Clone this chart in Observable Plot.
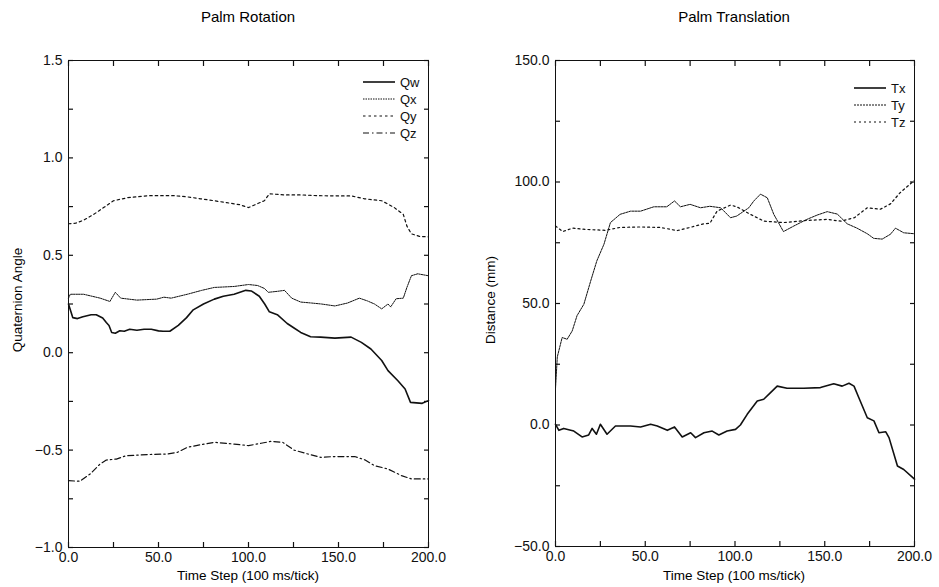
<!DOCTYPE html>
<html>
<head>
<meta charset="utf-8">
<script src="https://cdn.jsdelivr.net/npm/d3@7"></script>
<script src="https://cdn.jsdelivr.net/npm/@observablehq/plot@0.6"></script>
<style>
  body { margin: 0; background: #fff; }
  #wrap { position: relative; width: 939px; height: 587px; font-family: "Liberation Sans", Arial, sans-serif; color: #000; }
  .panel { position: absolute; top: 0; }
  .title { position: absolute; top: 8px; font-size: 15px; text-align: center; white-space: nowrap; transform: translateX(-50%); }
  .ylab { position: absolute; font-size: 13.5px; white-space: nowrap; transform: translate(-50%, -50%) rotate(-90deg); }
  .xlab { position: absolute; top: 568px; font-size: 13.5px; white-space: nowrap; transform: translateX(-50%); }
</style>
</head>
<body>
<div id="wrap"></div>
<script>
// ---- data (time step, value) ----
const timeTicks = [0, 50, 100, 150, 200];
const rotTicks = [-1, -0.5, 0, 0.5, 1, 1.5];
const transTicks = [-50, 0, 50, 100, 150];

const qw = [[0,0.25],[1,0.22],[2.4,0.18],[5,0.175],[8,0.185],[12.6,0.195],[15.4,0.195],[19,0.178],[21,0.155],[22.5,0.14],[24,0.104],[26,0.1],[28.5,0.113],[31,0.11],[34,0.12],[38,0.115],[42,0.12],[46,0.12],[50,0.112],[52.5,0.11],[56.3,0.11],[61,0.14],[65.6,0.18],[69.3,0.22],[75,0.25],[81,0.275],[86,0.29],[92,0.30],[98.5,0.32],[101.5,0.317],[106,0.29],[109,0.25],[111.6,0.21],[116,0.195],[121.5,0.15],[125.3,0.127],[129,0.104],[134.5,0.082],[140,0.08],[148,0.075],[157,0.08],[162.7,0.053],[168,0.019],[174,-0.04],[177.5,-0.092],[183,-0.144],[187,-0.186],[190,-0.255],[196.5,-0.26],[200,-0.246]];
const qx = [[0,0.28],[1,0.30],[8.4,0.30],[17.6,0.28],[23,0.263],[26,0.31],[29,0.28],[38,0.27],[49,0.275],[53,0.285],[57,0.28],[66,0.30],[74,0.32],[81,0.335],[92,0.34],[100,0.35],[105,0.345],[108.8,0.33],[111,0.31],[116,0.315],[120,0.32],[124,0.28],[129,0.26],[135,0.255],[140.5,0.25],[148,0.24],[155,0.255],[161.6,0.28],[166,0.266],[170,0.25],[174,0.225],[177.5,0.25],[179,0.235],[182,0.277],[186,0.28],[188,0.335],[190.5,0.395],[194,0.405],[200,0.395]];
const qy = [[0,0.662],[4,0.665],[8.4,0.68],[14,0.71],[19.5,0.745],[25,0.78],[33,0.796],[44,0.806],[58.6,0.806],[66,0.80],[73.5,0.79],[81,0.78],[88,0.77],[95,0.76],[100,0.745],[105,0.765],[108.8,0.78],[111.6,0.816],[120,0.81],[129,0.81],[138.5,0.806],[150,0.805],[157,0.805],[164.5,0.79],[174,0.78],[181,0.745],[186,0.71],[188,0.65],[190.5,0.61],[195,0.597],[200,0.595]];
const qz = [[0,-0.657],[6.3,-0.66],[12,-0.623],[17.6,-0.571],[21,-0.551],[26.6,-0.546],[32,-0.529],[43.6,-0.523],[54.8,-0.52],[60.4,-0.512],[66,-0.486],[73.5,-0.472],[81,-0.46],[92,-0.469],[100,-0.477],[107,-0.465],[112.6,-0.455],[119,-0.46],[125.3,-0.5],[133,-0.52],[140,-0.537],[148,-0.533],[159,-0.533],[164.6,-0.55],[170,-0.58],[177.5,-0.597],[185,-0.631],[190.5,-0.648],[200,-0.648]];

const tx = [[0,0.3],[1.9,-2.2],[4.6,-1.4],[10.2,-2.5],[14.8,-4.9],[18.5,-4.1],[20.4,-1.4],[22.8,-3.8],[25,0.3],[28.7,-3.8],[33.4,-0.4],[41.8,-0.4],[47.4,-0.8],[53,0.3],[56.7,-0.4],[62.3,-2.2],[66.3,-0.8],[70.6,-4.9],[75.3,-3.2],[78,-5.2],[82.7,-3.2],[87.3,-2.5],[91,-4.1],[95.6,-2.5],[100.3,-1.8],[103,0],[106.8,4.4],[112.4,9.9],[116,10.6],[119.8,13.3],[123.5,16],[129,15.1],[138.3,15.1],[147.6,15.4],[155,17],[159.7,16],[163.5,17.2],[166.3,16],[169,11.2],[173.7,3],[177.4,1.7],[180.2,-3.2],[184,-2.8],[185.8,-5.2],[190.5,-16.9],[194,-18.3],[200,-22.3]];
const ty = [[0,15],[1,28],[3.7,36],[6.5,35.3],[9.3,38.7],[12,45],[15.8,49.7],[19.5,59],[23,67.5],[27,74.4],[30.6,83.3],[36,86.7],[41.8,88],[47.4,88],[54.8,89.8],[62,89.8],[66.3,92.2],[69.6,89.8],[75,90.8],[80.8,89.4],[86,90],[92,89.4],[97.5,85.3],[101,86],[107.7,89.4],[110.5,92.2],[114.2,95],[118,93.5],[121.6,86.7],[127,79.6],[132.8,81.9],[140,84.6],[145.8,86.4],[151.4,87.8],[157,86.8],[162.5,82.8],[168,81],[173.7,78.7],[177.3,76.8],[182,76.5],[186.6,78.5],[189.4,81],[194,79.1],[200,78.7]];
const tz = [[0,81.9],[4,79.6],[9.5,81],[17,80.5],[28,80.1],[36,81.3],[47.4,81.5],[58.5,81.3],[67.7,80],[75,81.3],[82.5,82.8],[86,83],[90,88],[97.5,90.5],[101,89.8],[108.6,86.7],[116,83.9],[127,83.3],[132.8,83.7],[140,84.2],[151.4,84.6],[159,83.9],[166.5,85.3],[173.7,89.4],[181,88.8],[186.6,91],[192,95.6],[200,100.7]];

const rotSeries = [
  {name: "Qw", data: qw, dash: null, width: 1.6},
  {name: "Qx", data: qx, dash: "1.5,1", width: 1},
  {name: "Qy", data: qy, dash: "2.5,3", width: 1.2},
  {name: "Qz", data: qz, dash: "6,3,1.5,3", width: 1.2}
];
const transSeries = [
  {name: "Tx", data: tx, dash: null, width: 1.6},
  {name: "Ty", data: ty, dash: "2,1", width: 1},
  {name: "Tz", data: tz, dash: "2,3", width: 1.2}
];

const fmt = d3.format(".1f");
const ink = "#111";
const tk = 5;

function panel({series, yDomain, yTicks, yMinor, margins, width}) {
  const marks = [Plot.frame({stroke: ink, strokeWidth: 1})];
  const xMinor = d3.range(0, 201, 25);
  const blank = () => "";
  marks.push(
    Plot.axisX({anchor: "bottom", ticks: timeTicks, tickSize: 0, tickPadding: 5, tickFormat: fmt, fontSize: 14, fill: ink, label: null}),
    Plot.axisX({anchor: "bottom", ticks: xMinor, tickSize: -tk, tickFormat: blank, stroke: ink, strokeWidth: 1.2, label: null}),
    Plot.axisX({anchor: "top", ticks: xMinor, tickSize: -tk, tickFormat: blank, stroke: ink, strokeWidth: 1.2, label: null}),
    Plot.axisY({anchor: "left", ticks: yTicks, tickSize: 0, tickPadding: 6, tickFormat: fmt, fontSize: 14, fill: ink, label: null}),
    Plot.axisY({anchor: "left", ticks: yMinor, tickSize: -tk, tickFormat: blank, stroke: ink, strokeWidth: 1.2, label: null}),
    Plot.axisY({anchor: "right", ticks: yMinor, tickSize: -tk, tickFormat: blank, stroke: ink, strokeWidth: 1.2, label: null})
  );
  for (const s of series) {
    marks.push(Plot.line(s.data, {x: d => d[0], y: d => d[1], stroke: ink, strokeWidth: s.width, strokeDasharray: s.dash, curve: "linear"}));
  }
  return Plot.plot({
    width, height: 587,
    marginLeft: margins[0], marginRight: margins[1], marginTop: margins[2], marginBottom: margins[3],
    style: {fontFamily: '"Liberation Sans", Arial, sans-serif', background: "transparent", overflow: "visible"},
    x: {domain: [0, 200]},
    y: {domain: yDomain},
    marks
  });
}

const wrap = document.getElementById("wrap");

function addPanel(left, opts) {
  const d = document.createElement("div");
  d.className = "panel";
  d.style.left = left + "px";
  d.appendChild(panel(opts));
  wrap.appendChild(d);
}

addPanel(0, {series: rotSeries, yDomain: [-1, 1.5], yTicks: rotTicks, yMinor: d3.range(-1, 1.51, 0.25), margins: [68, 42, 60, 40], width: 470});
addPanel(470, {series: transSeries, yDomain: [-50, 150], yTicks: transTicks, yMinor: d3.range(-50, 151, 25), margins: [85, 25, 60, 41], width: 469});

function addText(cls, text, css) {
  const d = document.createElement("div");
  d.className = cls;
  d.textContent = text;
  Object.assign(d.style, css);
  wrap.appendChild(d);
}
addText("title", "Palm Rotation", {left: "248px"});
addText("title", "Palm Translation", {left: "734px"});
addText("ylab", "Quaternion Angle", {left: "17px", top: "300px"});
addText("ylab", "Distance (mm)", {left: "490px", top: "300px"});
addText("xlab", "Time Step (100 ms/tick)", {left: "248px"});
addText("xlab", "Time Step (100 ms/tick)", {left: "734px"});

function addLegend(series, left, top) {
  const rowH = 17;
  const svg = d3.create("svg").attr("width", 70).attr("height", series.length * rowH + 4)
    .style("position", "absolute").style("left", left + "px").style("top", top + "px");
  series.forEach((s, i) => {
    const y = 8 + i * rowH;
    svg.append("line").attr("x1", 0).attr("x2", 32).attr("y1", y).attr("y2", y)
      .attr("stroke", ink).attr("stroke-width", s.width).attr("stroke-dasharray", s.dash);
    svg.append("text").attr("x", 37).attr("y", y).attr("dy", "0.35em")
      .attr("font-size", 13).attr("font-family", '"Liberation Sans", Arial, sans-serif').attr("fill", ink).text(s.name);
  });
  wrap.appendChild(svg.node());
}
addLegend(rotSeries, 363, 74);
addLegend(transSeries, 854, 80);
</script>
</body>
</html>
